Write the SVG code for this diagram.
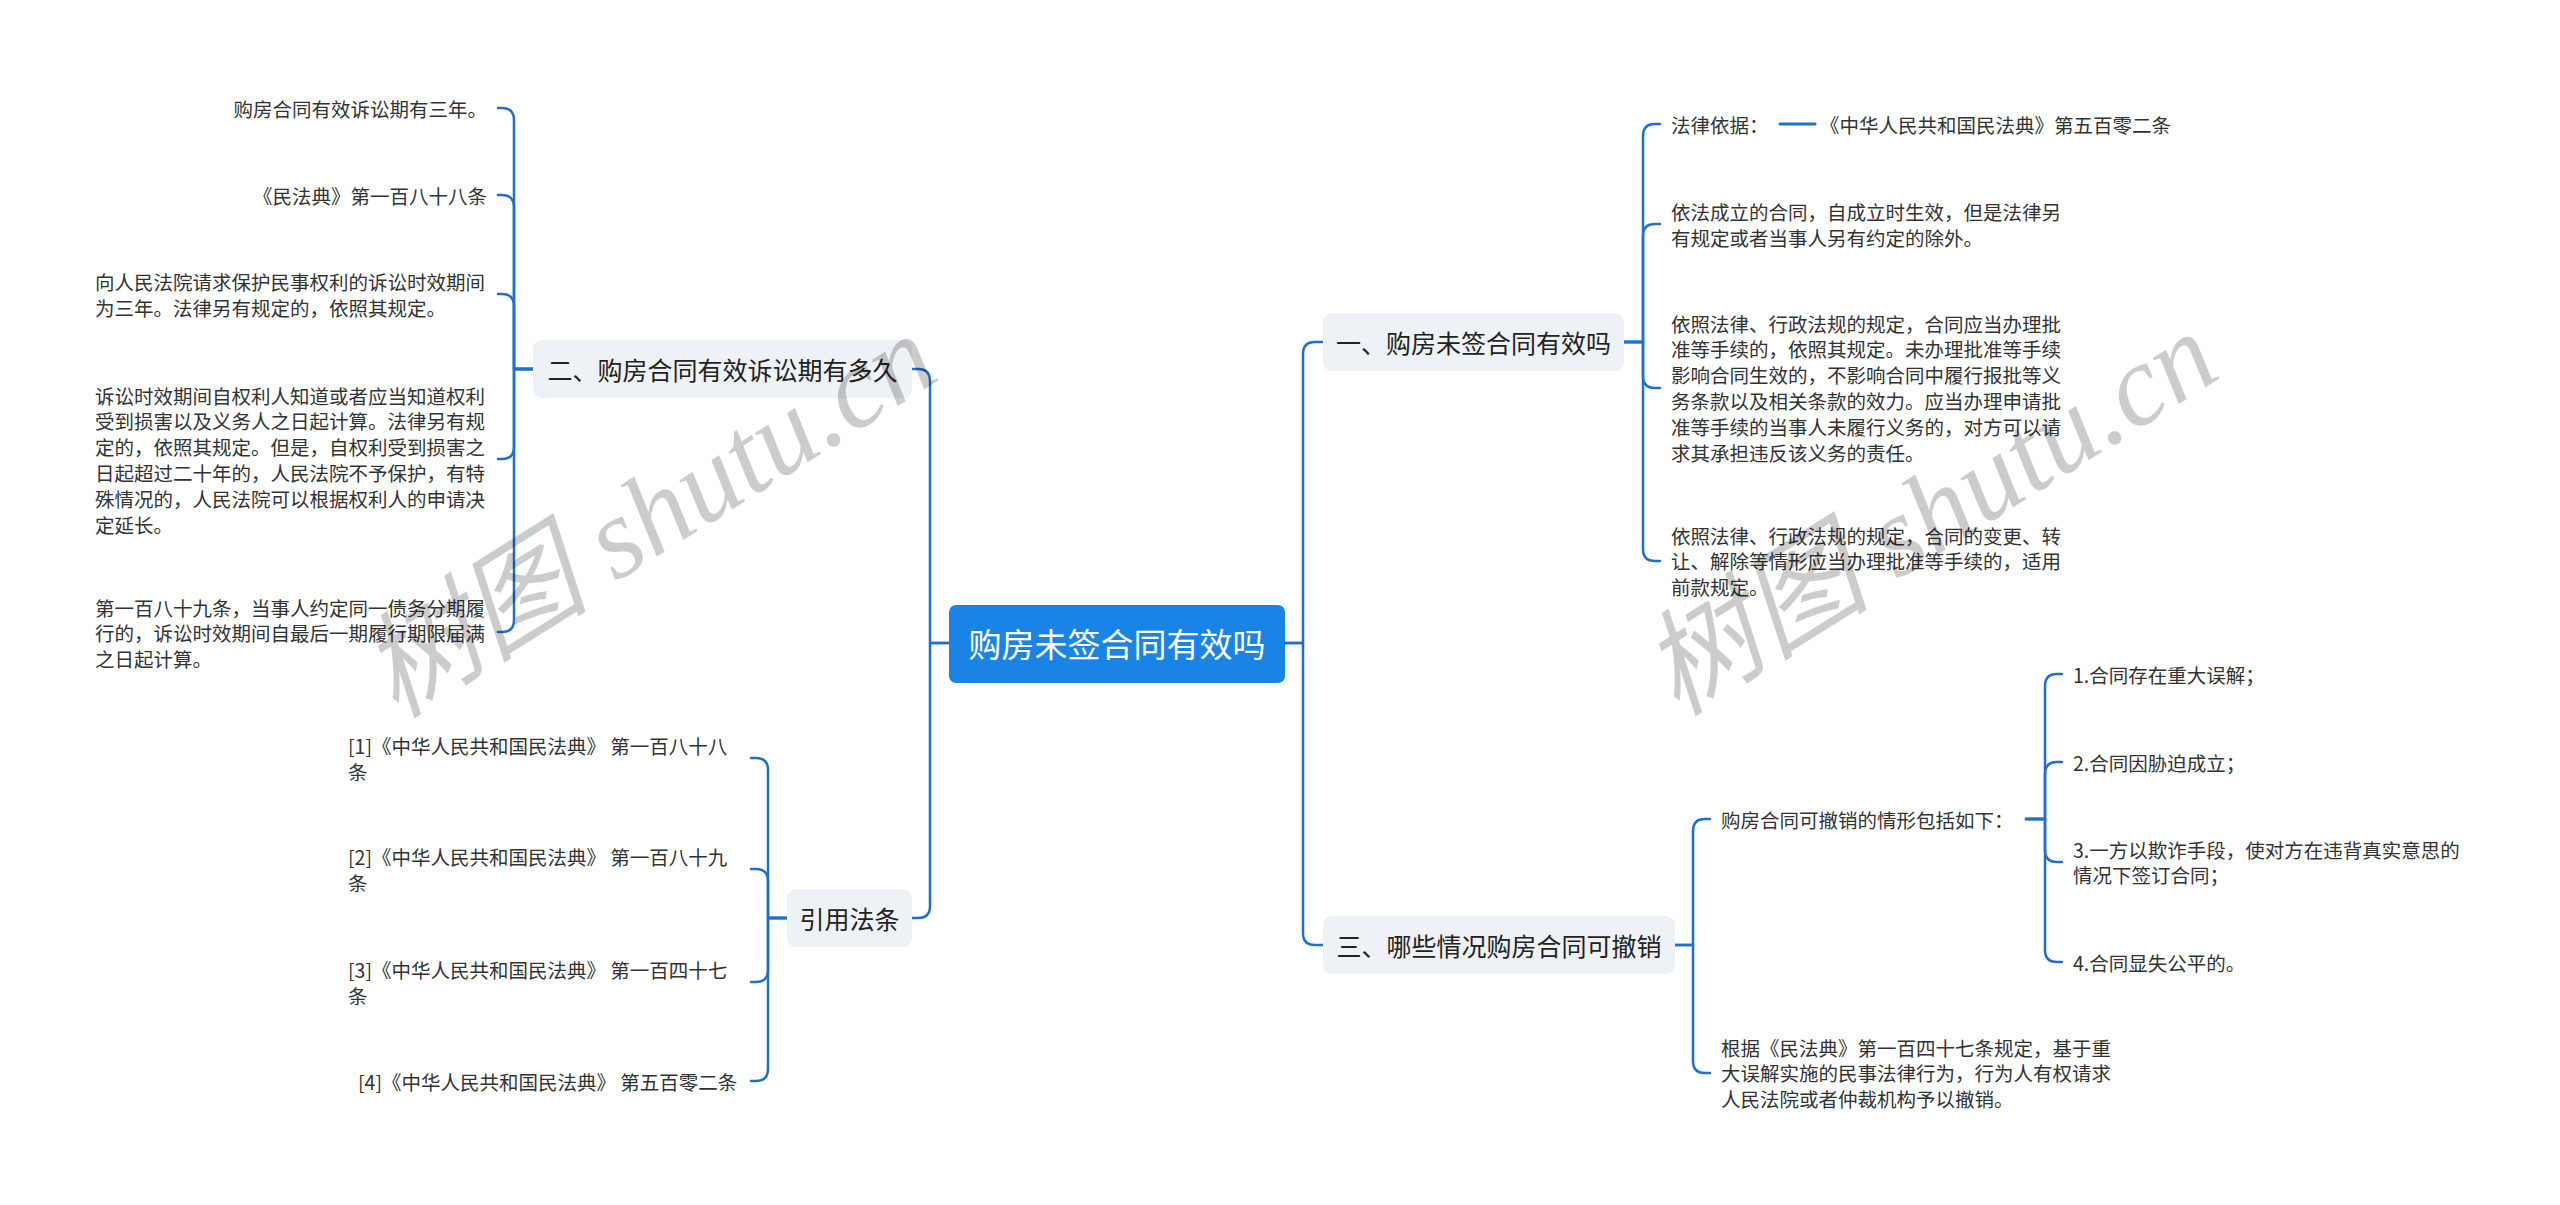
<svg xmlns="http://www.w3.org/2000/svg" width="2560" height="1205" viewBox="0 0 2560 1205">
<style>
.ln{fill:none;stroke:#1f6fcf;stroke-width:2.5;stroke-linecap:round;stroke-linejoin:round}
text{font-family:"Noto Sans CJK SC","Noto Sans",sans-serif;dominant-baseline:central}
.leaf{font-size:19.5px;fill:#333}
.end{text-anchor:end}
.sub rect{fill:#eef1f5}
.sub text{font-size:25px;fill:#222;text-anchor:middle}
.root rect{fill:#1a84e6}
.root text{font-size:33px;fill:#fff;text-anchor:middle}
.wm{font-family:"Liberation Serif","Noto Sans CJK SC",serif;font-style:italic;font-size:115px;fill:#000;fill-opacity:0.2;text-anchor:middle}
</style>
<rect width="2560" height="1205" fill="#fff"/>
<g id="connectors">
<path class="ln" d="M949,643 H930 V381 Q930,369 918,369 H912"/>
<path class="ln" d="M949,643 H930 V906 Q930,918 918,918 H912"/>
<path class="ln" d="M1285,643 H1303 V354 Q1303,342 1315,342 H1323"/>
<path class="ln" d="M1285,643 H1303 V933 Q1303,945 1315,945 H1323"/>
<path class="ln" d="M533,369 H514 V120 Q514,108 502,108 H498"/>
<path class="ln" d="M533,369 H514 V207 Q514,195 502,195 H498"/>
<path class="ln" d="M533,369 H514 V306 Q514,294 502,294 H498"/>
<path class="ln" d="M533,369 H514 V447 Q514,459 502,459 H498"/>
<path class="ln" d="M533,369 H514 V620 Q514,632 502,632 H498"/>
<path class="ln" d="M787,918 H768 V770 Q768,758 756,758 H751"/>
<path class="ln" d="M787,918 H768 V881 Q768,869 756,869 H751"/>
<path class="ln" d="M787,918 H768 V970 Q768,982 756,982 H751"/>
<path class="ln" d="M787,918 H768 V1069 Q768,1081 756,1081 H751"/>
<path class="ln" d="M1624,342 H1643 V136 Q1643,124 1655,124 H1660"/>
<path class="ln" d="M1624,342 H1643 V236 Q1643,224 1655,224 H1660"/>
<path class="ln" d="M1624,342 H1643 V376 Q1643,388 1655,388 H1660"/>
<path class="ln" d="M1624,342 H1643 V549 Q1643,561 1655,561 H1660"/>
<path class="ln" d="M1780,124 H1815" style="stroke-width:3"/>
<path class="ln" d="M1675,945 H1693 V831 Q1693,819 1705,819 H1710"/>
<path class="ln" d="M1675,945 H1693 V1061 Q1693,1073 1705,1073 H1710"/>
<path class="ln" d="M2026,819 H2045 V686 Q2045,674 2057,674 H2062"/>
<path class="ln" d="M2026,819 H2045 V774 Q2045,762 2057,762 H2062"/>
<path class="ln" d="M2026,819 H2045 V850 Q2045,862 2057,862 H2062"/>
<path class="ln" d="M2026,819 H2045 V950 Q2045,962 2057,962 H2062"/>
</g>
<g id="root" class="root"><rect x="949" y="605" width="336" height="78" rx="7"/><text x="1117" y="643">购房未签合同有效吗</text></g>
<g id="n2" class="sub"><rect x="533" y="340" width="379" height="58" rx="9"/><text x="722.5" y="369">二、购房合同有效诉讼期有多久</text></g>
<g id="ref" class="sub"><rect x="787" y="889" width="125" height="58" rx="9"/><text x="849.5" y="918">引用法条</text></g>
<g id="n1" class="sub"><rect x="1323" y="313" width="301" height="58" rx="9"/><text x="1473.5" y="342">一、购房未签合同有效吗</text></g>
<g id="n3" class="sub"><rect x="1323" y="916" width="352" height="58" rx="9"/><text x="1499" y="945">三、哪些情况购房合同可撤销</text></g>
<g id="l2a"><text class="leaf end" x="487" y="108">购房合同有效诉讼期有三年。</text></g>
<g id="l2b"><text class="leaf end" x="487" y="195">《民法典》第一百八十八条</text></g>
<g id="l2c" class="leaf"><text class="leaf" x="95" y="281">向人民法院请求保护民事权利的诉讼时效期间</text><text class="leaf" x="95" y="307">为三年。法律另有规定的，依照其规定。</text></g>
<g id="l2d"><text class="leaf" x="95" y="395">诉讼时效期间自权利人知道或者应当知道权利</text><text class="leaf" x="95" y="420.8">受到损害以及义务人之日起计算。法律另有规</text><text class="leaf" x="95" y="446.6">定的，依照其规定。但是，自权利受到损害之</text><text class="leaf" x="95" y="472.4">日起超过二十年的，人民法院不予保护，有特</text><text class="leaf" x="95" y="498.2">殊情况的，人民法院可以根据权利人的申请决</text><text class="leaf" x="95" y="524">定延长。</text></g>
<g id="l2e"><text class="leaf" x="95" y="607">第一百八十九条，当事人约定同一债务分期履</text><text class="leaf" x="95" y="632.8">行的，诉讼时效期间自最后一期履行期限届满</text><text class="leaf" x="95" y="658.6">之日起计算。</text></g>
<g id="r1"><text class="leaf" x="348" y="745">[1]《中华人民共和国民法典》 第一百八十八</text><text class="leaf" x="348" y="771">条</text></g>
<g id="r2"><text class="leaf" x="348" y="856">[2]《中华人民共和国民法典》 第一百八十九</text><text class="leaf" x="348" y="882">条</text></g>
<g id="r3"><text class="leaf" x="348" y="969">[3]《中华人民共和国民法典》 第一百四十七</text><text class="leaf" x="348" y="995">条</text></g>
<g id="r4"><text class="leaf" x="358" y="1081">[4]《中华人民共和国民法典》 第五百零二条</text></g>
<g id="l1a"><text class="leaf" x="1671" y="124">法律依据：</text></g>
<g id="l1a2"><text class="leaf" x="1820" y="124">《中华人民共和国民法典》第五百零二条</text></g>
<g id="l1b"><text class="leaf" x="1671" y="211">依法成立的合同，自成立时生效，但是法律另</text><text class="leaf" x="1671" y="237">有规定或者当事人另有约定的除外。</text></g>
<g id="l1c"><text class="leaf" x="1671" y="323">依照法律、行政法规的规定，合同应当办理批</text><text class="leaf" x="1671" y="348.8">准等手续的，依照其规定。未办理批准等手续</text><text class="leaf" x="1671" y="374.6">影响合同生效的，不影响合同中履行报批等义</text><text class="leaf" x="1671" y="400.4">务条款以及相关条款的效力。应当办理申请批</text><text class="leaf" x="1671" y="426.2">准等手续的当事人未履行义务的，对方可以请</text><text class="leaf" x="1671" y="452">求其承担违反该义务的责任。</text></g>
<g id="l1d"><text class="leaf" x="1671" y="535">依照法律、行政法规的规定，合同的变更、转</text><text class="leaf" x="1671" y="560.8">让、解除等情形应当办理批准等手续的，适用</text><text class="leaf" x="1671" y="586.6">前款规定。</text></g>
<g id="l3a"><text class="leaf" x="1721" y="819">购房合同可撤销的情形包括如下：</text></g>
<g id="l3b"><text class="leaf" x="1721" y="1047">根据《民法典》第一百四十七条规定，基于重</text><text class="leaf" x="1721" y="1072.8">大误解实施的民事法律行为，行为人有权请求</text><text class="leaf" x="1721" y="1098.6">人民法院或者仲裁机构予以撤销。</text></g>
<g id="s1"><text class="leaf" x="2073" y="674">1.合同存在重大误解；</text></g>
<g id="s2"><text class="leaf" x="2073" y="762">2.合同因胁迫成立；</text></g>
<g id="s3"><text class="leaf" x="2073" y="849">3.一方以欺诈手段，使对方在违背真实意思的</text><text class="leaf" x="2073" y="874.8">情况下签订合同；</text></g>
<g id="s4"><text class="leaf" x="2073" y="962">4.合同显失公平的。</text></g>
<g id="watermark">
<text class="wm" transform="translate(649,516) rotate(-32)" y="0">树图 shutu.cn</text>
<text class="wm" transform="translate(1930,514) rotate(-32)" y="0">树图 shutu.cn</text>
</g>
</svg>
